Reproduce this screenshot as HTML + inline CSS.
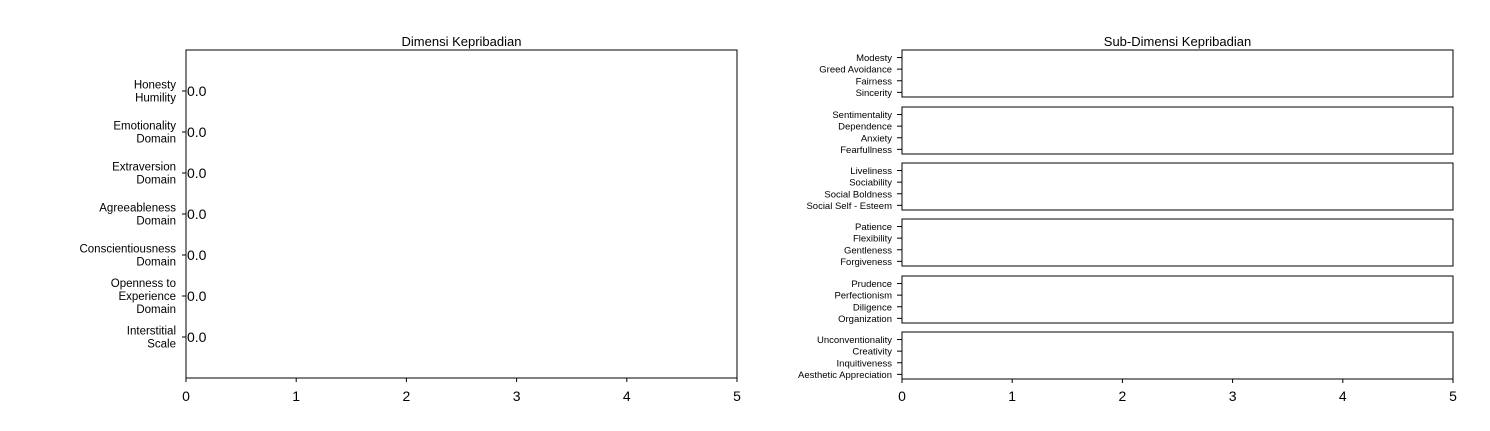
<!DOCTYPE html>
<html><head><meta charset="utf-8"><style>
body{margin:0;background:#fff;}
svg text{font-family:"Liberation Sans",sans-serif;fill:#000;}
</style></head><body>
<svg id="chart" width="1490" height="426" xmlns="http://www.w3.org/2000/svg"></svg>
<script>
const dimensions = ["Honesty\nHumility","Emotionality\nDomain","Extraversion\nDomain","Agreeableness\nDomain","Conscientiousness\nDomain","Openness to\nExperience\nDomain","Interstitial\nScale"];
const dimensionValues = [0,0,0,0,0,0,0];
const subGroups = [
 ["Modesty","Greed Avoidance","Fairness","Sincerity"],
 ["Sentimentality","Dependence","Anxiety","Fearfullness"],
 ["Liveliness","Sociability","Social Boldness","Social Self - Esteem"],
 ["Patience","Flexibility","Gentleness","Forgiveness"],
 ["Prudence","Perfectionism","Diligence","Organization"],
 ["Unconventionality","Creativity","Inquitiveness","Aesthetic Appreciation"]
];
const subValues = [[0,0,0,0],[0,0,0,0],[0,0,0,0],[0,0,0,0],[0,0,0,0],[0,0,0,0]];
const xTicks = [0,1,2,3,4,5];

const svg=document.getElementById('chart');
const NS='http://www.w3.org/2000/svg';
function mk(tag,attrs,parent){const e=document.createElementNS(NS,tag);for(const k in attrs)e.setAttribute(k,attrs[k]);(parent||svg).appendChild(e);return e;}

// left chart
const L={x0:186,x1:737,y0:50,y1:378};
const lx=v=>L.x0+(v/5)*(L.x1-L.x0);
const ly=i=>L.y0+(i+1)*(L.y1-L.y0)/(dimensions.length+1);
const lt=mk('text',{x:(L.x0+L.x1)/2,y:46,'text-anchor':'middle','font-size':13});
lt.textContent='Dimensi Kepribadian';


dimensions.forEach((d,i)=>{
  const y=ly(i);
  const w=lx(dimensionValues[i])-L.x0;
  const bar=mk('rect',{x:L.x0,y:y-15,width:Math.max(w,0),height:30,fill:'#1f77b4'});
  
  
  mk('line',{x1:L.x0-4,x2:L.x0,y1:y,y2:y,stroke:'#000','stroke-width':1});
  const lines=d.split('\n');
  const t=mk('text',{x:176,'text-anchor':'end','font-size':11.5});
  
  
  const start=y-(lines.length-1)*13/2+4;
  lines.forEach((ln,k)=>{const ts=mk('tspan',{x:176,y:start+k*13},t);ts.textContent=ln;});
  const v=mk('text',{x:lx(dimensionValues[i])+1,y:y+5,'font-size':14});
  v.textContent=dimensionValues[i].toFixed(1);
  
  
});
const lf=mk('rect',{x:L.x0,y:L.y0,width:L.x1-L.x0,height:L.y1-L.y0,fill:'none',stroke:'#000','stroke-width':1});


xTicks.forEach(v=>{
  mk('line',{x1:lx(v),x2:lx(v),y1:L.y1,y2:L.y1+4,stroke:'#000'});
  const t=mk('text',{x:lx(v),y:401,'text-anchor':'middle','font-size':14});
  t.textContent=v;
  
  
});

// right chart
const R={x0:902,x1:1453};
const panelTops=[50,107,163,219,276,332];const PH=47;
const rx=v=>R.x0+(v/5)*(R.x1-R.x0);
const rt=mk('text',{x:(R.x0+R.x1)/2,y:46,'text-anchor':'middle','font-size':13});
rt.textContent='Sub-Dimensi Kepribadian';


subGroups.forEach((g,p)=>{
  const top=panelTops[p];
  const sy=i=>top+(i+0.65)*PH/4.05;
  g.forEach((lab,i)=>{
    const y=sy(i);
    const w=rx(subValues[p][i])-R.x0;
    const bar=mk('rect',{x:R.x0,y:y-4,width:Math.max(w,0),height:8,fill:'#1f77b4'});
    
    
    mk('line',{x1:R.x0-5,x2:R.x0,y1:y,y2:y,stroke:'#000'});
    const t=mk('text',{x:892,y:y+3.5,'text-anchor':'end','font-size':9.5});
    t.textContent=lab;
    
    
  });
  const f=mk('rect',{x:R.x0,y:top,width:R.x1-R.x0,height:PH,fill:'none',stroke:'#000'});
  
  
});
xTicks.forEach(v=>{
  mk('line',{x1:rx(v),x2:rx(v),y1:379,y2:383,stroke:'#000'});
  const t=mk('text',{x:rx(v),y:401,'text-anchor':'middle','font-size':14});
  t.textContent=v;
  
  
});
</script>
</body></html>
